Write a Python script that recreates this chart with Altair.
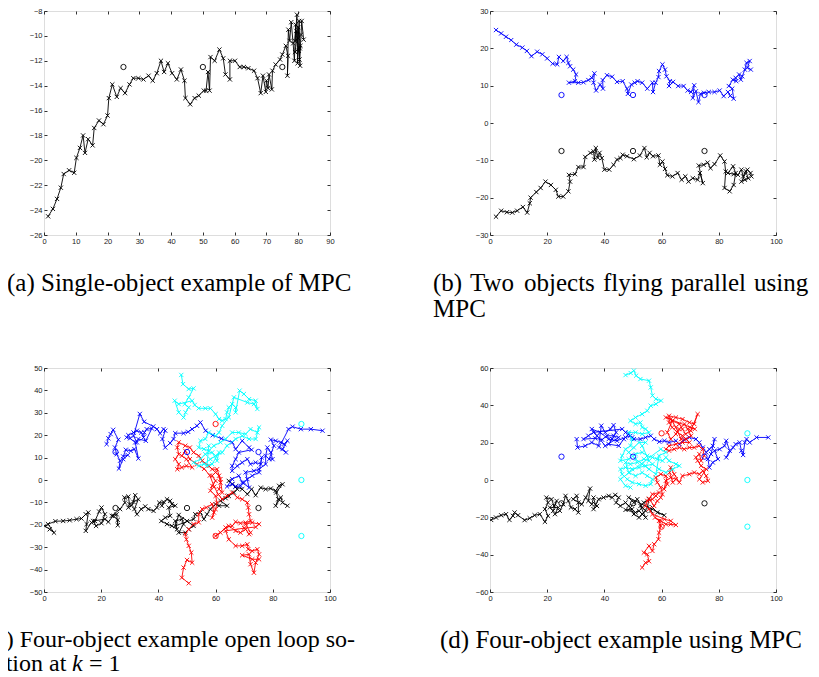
import altair as alt
import pandas as pd

# ---------------- data ----------------
# (a) single object, black trajectory
A_BLACK = [(1.3,-24.5),(2.8,-23.9),(4.1,-23.1),(5.3,-22.2),(6.2,-21.1),(7.9,-20.8),(9.5,-21.0),
    (10.2,-19.8),(11.3,-19.0),(12.3,-18.0),(12.9,-19.4),(13.9,-18.3),(15.3,-18.8),(15.8,-17.4),
    (17.3,-16.8),(18.7,-17.1),(20.0,-16.4),(20.4,-15.0),(21.5,-13.9),(22.9,-14.9),(24.1,-14.2),
    (25.5,-14.6),(26.9,-13.9),(28.1,-13.4),(29.7,-13.4),(31.3,-13.5),(32.9,-13.2),(34.2,-13.6),
    (35.5,-13.0),(36.8,-12.0),(37.8,-12.9),(39.0,-12.2),(40.3,-13.0),(41.8,-13.5),(43.1,-12.7),
    (44.2,-13.6),(44.5,-15.0),(46.0,-15.5),(47.4,-15.0),(48.7,-14.8),(50.3,-14.4),(51.0,-14.4),
    (51.6,-12.9),(52.1,-14.4),(52.4,-11.7),(53.7,-12.0),(55.2,-11.1),(56.4,-11.8),(57.1,-13.1),
    (58.5,-13.5),(58.5,-12.0),(60.1,-12.0),(61.6,-12.5),(62.9,-12.5),(64.3,-12.6),(66.1,-12.8),
    (67.2,-13.4),(68.2,-14.6),(68.9,-13.2),(69.8,-14.5),(70.0,-13.6),(70.5,-14.2),(70.8,-13.1),
    (71.7,-14.3),(71.9,-12.8),(72.9,-12.3),(74.3,-11.9),(75.0,-11.5),(76.1,-10.8),(76.8,-11.6),
    (76.6,-13.2),(76.9,-9.5),(77.3,-10.4),(77.8,-8.9),(78.4,-10.6),(78.8,-12.0),(79.2,-9.1),
    (79.0,-10.4),(79.6,-8.3),(79.8,-12.2),(80.0,-10.2),(80.3,-8.8),(80.5,-11.0),(80.2,-11.2),
    (79.4,-9.6),(80.6,-12.4),(80.0,-9.3),(79.0,-11.3),(80.7,-10.8),(80.4,-11.9),(80.9,-9.9),
    (81.1,-8.8),(81.7,-10.3)]
A_CIRC_BLACK = [(25,-12.5),(50,-12.5),(75,-12.5)]

# (b) two objects flying parallel
B_BLUE = [(2.1,24.9),(3.9,24.0),(5.6,23.1),(7.4,22.2),(9.2,21.0),(11.3,20.2),(12.9,19.3),(14.5,17.9),
    (16.5,19.1),(18.3,18.4),(20.0,17.3),(21.9,15.9),(23.5,15.7),(24.1,17.7),(25.6,16.6),(26.8,17.7),
    (27.4,16.1),(28.0,15.2),(29.1,14.3),(30.1,13.0),(29.7,11.2),(27.6,10.8),(30.9,10.8),(32.7,10.9),
    (34.4,11.5),(35.6,12.1),(36.5,13.3),(36.2,10.8),(37.1,8.7),(38.5,10.3),(39.5,9.2),(39.4,11.5),
    (40.9,12.8),(42.7,12.4),(44.4,11.0),(46.4,11.2),(47.9,9.2),(48.2,7.8),(49.4,10.3),(50.6,10.8),
    (51.6,11.2),(53.2,10.8),(55.0,9.2),(56.8,10.8),(57.0,8.3),(57.9,10.8),(58.9,12.3),(59.1,13.9),
    (60.3,15.7),(61.2,14.3),(61.7,12.5),(62.9,11.2),(62.6,9.9),(64.0,11.0),(65.8,9.9),(67.7,9.9),
    (69.1,8.7),(70.3,8.3),(71.4,10.1),(70.9,6.7),(72.0,8.5),(72.9,5.6),(73.6,7.8),(74.8,8.1),
    (76.5,8.3),(78.5,8.3),(80.3,8.7),(81.7,7.2),(83.2,8.3),(84.0,7.3),(85.2,6.5),(84.7,9.2),
    (83.5,9.9),(84.9,11.6),(86.1,11.2),(85.9,12.1),(87.1,13.0),(87.7,11.6),(88.2,12.5),(89.1,14.3),
    (89.7,16.1),(90.8,16.6),(90.0,14.8),(91.2,14.3)]
B_BLACK = [(2.1,-25.1),(3.9,-23.5),(5.9,-23.9),(7.8,-24.0),(9.5,-23.5),(11.5,-22.5),(13.0,-24.0),
    (13.9,-21.5),(14.2,-20.0),(16.2,-18.5),(17.7,-17.4),(19.4,-15.7),(21.3,-16.6),(23.0,-17.9),
    (23.9,-19.7),(25.6,-19.7),(27.4,-18.3),(28.0,-15.7),(27.6,-13.9),(29.7,-13.7),(30.9,-11.8),
    (32.7,-11.8),(33.3,-9.1),(35.1,-8.0),(36.2,-7.6),(36.5,-9.8),(37.0,-6.7),(37.7,-9.3),(38.3,-8.0),
    (39.1,-9.4),(40.0,-12.5),(41.7,-12.5),(43.2,-11.2),(44.4,-9.8),(45.6,-9.4),(46.4,-8.5),
    (47.9,-8.9),(50.3,-9.7),(52.4,-8.7),(54.0,-6.7),(54.8,-9.2),(55.8,-8.0),(57.0,-8.9),(58.9,-8.7),
    (59.4,-11.2),(60.3,-10.3),(61.2,-12.3),(62.0,-14.0),(63.8,-14.3),(65.6,-13.4),(67.0,-15.2),
    (68.3,-14.3),(69.4,-15.7),(70.9,-14.8),(72.6,-15.2),(73.4,-13.4),(74.4,-16.1),(73.0,-11.4),
    (74.7,-11.2),(76.1,-10.6),(77.1,-12.1),(78.5,-11.0),(80.5,-8.7),(82.0,-10.3),(82.4,-13.0),
    (82.0,-17.4),(83.8,-18.3),(85.2,-16.6),(85.9,-13.4),(85.0,-11.6),(83.2,-13.4),(85.2,-13.7),
    (86.7,-13.9),(87.9,-12.5),(88.5,-14.3),(89.4,-12.9),(90.3,-14.8),(89.1,-15.2),(87.9,-15.7),
    (90.0,-12.5),(91.1,-13.4),(91.4,-14.3)]
B_CIRC_BLUE = [(25,7.5),(50,7.5),(75,7.5)]
B_CIRC_BLACK = [(25,-7.5),(50,-7.5),(75,-7.5)]

# (c) four objects, open loop solution
C_BLACK = [(0.2,-20.5),(2.0,-22.0),(3.5,-23.5),(1.4,-19.7),(4.0,-18.4),(6.7,-18.3),(9.0,-18.0),
    (11.4,-17.5),(13.1,-17.2),(14.6,-15.3),(15.5,-14.5),(14.9,-19.7),(14.6,-22.7),(16.6,-19.0),
    (17.8,-18.3),(19.3,-14.1),(20.1,-12.3),(21.3,-15.3),(20.1,-19.3),(18.2,-20.5),(17.2,-18.3),
    (21.3,-17.5),(22.5,-18.7),(24.2,-16.0),(25.8,-17.8),(25.8,-20.2),(25.4,-15.3),(23.7,-16.0),
    (26.6,-13.0),(28.3,-10.1),(28.1,-7.8),(29.5,-7.4),(29.9,-10.8),(29.5,-12.3),(30.7,-11.3),
    (31.9,-6.8),(31.3,-9.8),(33.0,-8.6),(31.6,-13.0),(32.5,-15.3),(34.0,-13.0),(35.4,-11.8),
    (36.5,-13.0),(38.3,-13.8),(39.5,-12.3),(40.3,-10.1),(41.8,-9.8),(41.2,-11.5),(43.0,-8.6),
    (44.1,-9.3),(44.7,-10.8),(45.9,-11.5),(43.6,-12.3),(44.1,-16.0),(42.4,-16.8),(41.0,-18.3),
    (43.0,-19.7),(44.7,-20.5),(46.5,-22.0),(45.9,-18.3),(48.2,-17.5),(48.8,-19.7),(47.1,-23.5),
    (49.4,-23.5),(50.6,-22.0),(52.3,-20.5),(50.0,-18.3),(47.1,-15.6),(45.9,-20.5),(52.3,-17.5),
    (52.9,-15.3),(54.7,-14.5),(55.9,-17.5),(57.0,-15.3),(58.2,-13.0),(60.0,-10.8),(61.2,-11.5),
    (64.0,-11.5),(61.7,-9.3),(63.5,-8.1),(64.6,-7.1),(66.4,-5.6),(67.6,-4.1),(65.8,-1.9),
    (64.6,-0.4),(67.0,-2.9),(69.3,-4.1),(71.1,-6.3),(72.6,-4.1),(74.0,-6.8),(75.8,-3.4),(77.5,-4.1),
    (79.3,-3.8),(81.0,-4.8),(82.2,-2.6),(83.4,-1.9),(81.2,-5.6),(81.9,-8.6),(81.0,-11.5),
    (82.8,-7.8),(83.4,-10.1),(85.1,-11.5)]
C_BLUE = [(21.9,16.0),(22.5,18.6),(23.3,20.5),(24.2,22.4),(26.0,18.0),(24.8,14.5),(25.4,11.5),
    (26.6,8.6),(26.2,5.1),(27.7,9.3),(29.3,11.1),(27.7,10.5),(28.6,13.5),(30.3,13.0),(31.6,13.8),
    (33.0,9.6),(31.9,16.8),(30.1,18.6),(28.9,19.0),(29.5,20.0),(31.3,21.2),(32.5,22.0),(34.0,21.2),
    (34.8,19.0),(35.1,21.2),(35.9,22.7),(37.7,23.0),(35.6,17.5),(33.0,18.3),(32.5,16.8),(31.3,19.7),
    (33.5,29.5),(35.0,26.0),(38.2,23.9),(39.5,22.7),(40.6,20.8),(41.8,22.7),(42.4,22.0),(41.4,18.3),
    (42.4,14.5),(44.1,16.5),(45.3,18.3),(45.9,20.9),(48.8,20.9),(50.4,21.5),(51.8,22.7),(53.5,24.2),
    (54.7,25.7),(56.5,22.0),(59.0,20.0),(62.0,18.5),(65.8,16.8),(67.0,13.8),(69.3,17.5),(71.7,14.5),
    (72.6,13.5),(68.1,12.3),(67.0,9.3),(65.8,6.3),(65.8,4.1),(67.6,6.3),(69.3,7.8),(71.1,9.3),
    (72.2,7.1),(74.0,7.8),(75.8,7.1),(76.1,10.1),(75.2,3.4),(72.8,1.9),(71.1,0.4),(69.9,-1.1),
    (68.7,-2.6),(67.0,-2.9),(65.8,-1.9),(64.0,-2.9),(65.8,0.4),(68.1,1.9),(69.3,-1.1),(71.7,-3.4),
    (70.5,3.4),(73.4,4.1),(75.2,4.8),(77.5,7.1),(77.5,10.8),(78.1,14.5),(79.3,12.3),(79.9,9.3),
    (78.7,9.3),(80.4,15.3),(79.3,18.0),(81.0,17.5),(82.8,16.8),(84.0,16.0),(85.1,17.5),(83.4,13.8),
    (84.6,12.3),(82.2,14.5),(85.5,22.7),(86.9,23.8),(89.8,22.7),(93.3,22.7),(97.4,22.0)]
C_RED = [(50.6,-46.1),(48.2,-43.6),(48.8,-39.1),(50.0,-35.7),(51.8,-36.9),(51.5,-32.4),(50.6,-29.4),
    (49.8,-26.5),(49.4,-24.2),(50.6,-22.0),(52.3,-19.7),(54.1,-18.9),(54.1,-15.3),(55.3,-13.0),
    (56.7,-12.3),(58.8,-10.8),(59.4,-14.5),(58.8,-16.8),(60.0,-13.0),(60.5,-10.1),(60.0,-7.1),
    (58.2,-4.8),(58.8,-2.6),(60.0,-0.4),(58.8,1.9),(60.0,3.4),(61.2,1.9),(61.7,-1.1),(61.2,-4.1),
    (62.3,-5.6),(61.7,0.4),(60.5,4.8),(58.8,4.8),(57.6,6.3),(55.3,8.6),(54.1,10.8),(52.3,12.3),
    (51.0,14.5),(49.4,15.3),(47.1,16.8),(46.6,14.5),(47.1,11.5),(45.9,9.3),(47.1,7.1),(46.6,4.8),
    (48.2,5.6),(49.8,6.3),(51.8,5.6),(49.8,9.3),(48.2,10.8),(49.4,13.0),(51.0,9.3),(53.5,7.0),
    (56.0,5.0),(58.0,2.0),(59.5,-3.0),(61.0,-6.5),(62.3,-8.6),(64.0,-7.1),(65.8,-5.6),(67.6,-7.8),
    (69.3,-8.6),(71.1,-10.1),(71.4,-12.3),(71.7,-15.3),(72.2,-18.3),(70.5,-19.0),(68.7,-19.3),
    (67.0,-18.7),(65.8,-20.5),(63.5,-21.2),(61.7,-23.5),(60.0,-25.0),(64.6,-20.5),(67.0,-22.7),
    (68.7,-23.5),(70.5,-22.0),(71.7,-24.2),(72.2,-23.5),(70.5,-19.7),(72.8,-19.0),(75.2,-19.7),
    (74.0,-21.0),(70.0,-21.5),(63.5,-22.7),(64.6,-26.5),(67.0,-29.4),(69.3,-29.4),(71.1,-28.7),
    (71.4,-30.9),(72.8,-31.7),(74.6,-30.9),(75.2,-33.2),(74.0,-36.9),(73.4,-41.4),(72.2,-37.6),
    (71.7,-33.2),(69.3,-33.6),(72.8,-35.4),(75.2,-35.4)]
C_CYAN = [(48.0,46.9),(48.6,42.8),(50.6,40.6),(52.3,40.9),(50.6,36.9),(49.2,33.9),(50.6,32.4),
    (49.5,30.2),(48.8,27.9),(47.1,30.2),(45.7,35.4),(47.1,33.9),(51.8,35.4),(52.7,33.5),(54.1,32.0),
    (56.4,32.0),(58.2,32.0),(60.0,29.4),(61.2,27.2),(62.3,26.5),(63.5,27.2),(64.0,30.2),(64.6,32.4),
    (65.8,33.9),(67.0,32.4),(67.0,30.2),(68.4,39.9),(69.9,38.4),(71.7,36.1),(74.0,35.4),(74.6,31.7),
    (73.4,33.9),(71.1,34.6),(66.4,36.9),(64.6,28.0),(62.3,24.2),(61.2,21.2),(60.0,19.7),(57.6,21.2),
    (56.4,18.3),(54.7,17.5),(54.1,14.5),(55.9,13.8),(57.6,13.0),(59.4,15.3),(61.7,16.8),(63.5,18.3),
    (65.8,21.2),(68.1,21.2),(70.5,20.5),(72.2,22.7),(74.6,21.2),(75.2,23.5),(74.0,18.3),(71.7,18.3),
    (69.3,19.7),(67.0,18.3),(64.0,15.3),(62.3,12.3),(60.0,10.8),(58.2,9.3),(55.9,7.1),(54.1,6.3),
    (52.3,7.8),(54.7,9.3),(56.4,11.5),(58.8,12.3),(60.5,8.6),(61.2,12.3),(58.8,7.1),(57.0,6.3),
    (57.6,15.3)]

# (d) four objects using MPC
D_BLACK = [(0.4,-21.4),(2.1,-20.1),(3.9,-18.9),(5.6,-18.3),(6.8,-21.4),(8.0,-19.2),(8.6,-17.4),
    (9.8,-18.9),(12.1,-21.5),(13.9,-20.5),(15.6,-18.9),(17.4,-18.3),(19.2,-22.4),(20.3,-19.2),
    (19.2,-15.6),(20.3,-12.1),(19.7,-9.4),(21.5,-10.3),(22.4,-13.9),(23.3,-11.2),(22.1,-16.5),
    (20.9,-14.7),(23.9,-14.7),(22.7,-18.3),(24.4,-16.5),(25.6,-13.0),(26.4,-8.5),(27.4,-11.2),
    (28.3,-14.7),(29.7,-15.6),(30.9,-17.4),(30.9,-12.1),(30.3,-8.5),(29.1,-10.3),(32.1,-13.0),
    (33.5,-9.4),(35.0,-4.6),(34.4,-11.2),(35.6,-13.0),(36.2,-9.4),(36.8,-13.0),(37.4,-13.9),
    (36.2,-15.6),(38.0,-10.3),(39.7,-9.4),(41.5,-8.5),(42.7,-9.4),(43.8,-8.0),(45.0,-9.4),
    (44.1,-12.1),(45.6,-13.9),(47.4,-12.1),(48.5,-13.9),(49.7,-15.6),(47.4,-16.0),(50.9,-17.4),
    (52.1,-16.5),(53.2,-18.3),(54.4,-20.1),(52.6,-13.9),(53.8,-12.1),(55.6,-10.3),(55.0,-14.7),
    (56.2,-16.5),(56.8,-14.7),(58.5,-17.4),(60.9,-18.9),(48.5,-9.4),(50.3,-12.1),(51.5,-10.3),
    (53.2,-14.7),(54.4,-16.5),(52.1,-20.1),(50.3,-18.3),(49.1,-14.7)]
D_BLUE = [(30.3,21.9),(30.6,17.4),(33.3,18.3),(35.6,20.1),(38.0,18.3),(38.9,29.1),(40.3,25.5),
    (42.1,27.3),(43.2,29.4),(44.1,25.5),(42.7,21.9),(41.5,19.2),(45.0,18.3),(46.8,21.9),(48.5,24.6),
    (49.7,22.8),(47.4,25.5),(46.2,27.3),(36.2,25.5),(34.4,23.7),(32.7,21.9),(36.8,22.3),(39.2,21.6),
    (40.9,23.7),(43.2,23.7),(45.0,22.8),(40.3,18.3),(37.4,23.7),(35.6,27.3),(38.5,25.5),(41.5,21.9),
    (44.4,21.0),(47.4,22.8),(49.1,23.7),(50.3,21.9),(52.6,21.9),(54.4,22.8),(56.2,23.7),(57.4,21.9),
    (59.2,20.5),(61.0,21.0),(62.6,20.1),(65.0,21.0),(66.2,19.2),(67.9,21.6),(69.7,22.8),(72.0,21.9),
    (73.2,20.1),(74.4,17.4),(75.6,14.8),(76.7,16.5),(77.9,18.3),(78.5,21.9),(77.3,13.9),(76.2,11.2),
    (76.7,6.7),(77.9,9.4),(79.7,11.2),(78.5,15.7),(80.3,16.5),(82.0,18.3),(82.6,21.0),(83.8,15.7),
    (82.6,12.1),(85.0,17.4),(85.9,19.2),(87.3,20.1),(87.9,15.7),(88.5,13.4),(89.1,20.1),(89.7,21.9),
    (90.8,20.1),(93.2,22.8),(97.3,22.8)]
D_RED = [(53.2,-46.9),(54.4,-44.3),(55.6,-43.5),(55.0,-39.8),(53.8,-38.9),(55.6,-35.3),(56.8,-38.0),
    (57.4,-34.4),(58.9,-31.7),(59.1,-28.2),(59.7,-24.6),(59.1,-21.9),(57.7,-20.1),(59.7,-21.9),
    (61.5,-23.7),(63.2,-23.7),(65.0,-24.1),(63.2,-21.9),(61.0,-21.0),(56.8,-18.3),(55.6,-15.6),
    (54.4,-13.9),(55.0,-11.2),(56.8,-10.3),(58.0,-8.5),(59.1,-6.7),(56.8,-7.6),(55.6,-10.0),
    (57.4,-13.9),(58.5,-11.2),(59.7,-9.4),(60.3,-7.6),(59.7,-4.0),(58.5,-1.3),(58.0,1.3),(59.7,3.1),
    (61.5,2.2),(62.0,-2.2),(60.9,-4.9),(61.5,-0.4),(63.2,1.3),(65.0,0.4),(63.9,-1.3),(62.8,4.0),
    (63.2,6.7),(64.4,3.1),(66.2,-1.3),(67.3,2.2),(69.7,3.1),(71.4,4.0),(73.2,3.1),(74.4,4.9),
    (75.6,2.2),(76.2,-0.4),(74.4,-1.3),(73.2,0.4),(75.6,5.8),(73.8,7.6),(72.6,10.3),(72.0,12.1),
    (73.2,13.9),(73.8,10.3),(74.9,13.0),(74.4,16.5),(73.0,18.3),(71.4,17.4),(69.7,17.4),(67.9,16.5),
    (66.2,17.4),(64.4,16.5),(62.6,15.7),(61.5,16.5),(62.6,18.3),(65.0,19.2),(67.3,20.1),(69.7,20.1),
    (67.3,23.7),(65.5,25.5),(63.7,28.2),(62.6,30.8),(62.6,34.4),(65.0,33.5),(67.3,32.6),(69.7,30.8),
    (71.4,30.0),(72.6,35.3),(70.2,26.4),(68.4,24.6),(67.3,27.3),(66.2,30.0),(63.7,31.7),(62.0,25.5),
    (63.2,21.9),(65.0,24.6),(66.2,27.3),(68.0,30.0),(69.1,27.3),(70.3,23.7),(68.6,21.9),(66.8,21.9),
    (65.0,28.2),(63.2,32.6),(61.5,33.5),(71.6,27.3),(69.9,28.2)]
D_CYAN = [(47.4,56.2),(49.2,57.3),(50.3,58.6),(51.1,55.9),(52.6,54.1),(55.6,53.2),(56.2,49.6),
    (56.8,45.2),(58.0,43.4),(59.8,42.5),(58.0,40.7),(56.2,39.8),(55.0,37.1),(53.2,35.3),(50.9,33.5),
    (49.1,31.7),(50.9,30.0),(52.6,30.8),(53.2,28.2),(54.4,27.3),(55.6,25.5),(53.2,24.6),(50.9,25.5),
    (48.5,25.5),(49.7,21.9),(49.1,18.3),(47.4,16.5),(46.2,13.0),(45.6,10.3),(48.5,11.2),(50.9,13.9),
    (53.2,14.8),(55.0,13.0),(56.8,12.1),(58.5,11.2),(60.3,10.3),(61.5,12.1),(62.6,10.3),(65.0,8.5),
    (66.2,7.6),(63.9,5.8),(61.5,4.0),(59.1,5.8),(56.8,8.5),(54.4,7.6),(52.1,6.7),(49.7,5.8),
    (47.4,6.7),(45.6,5.8),(46.2,3.1),(48.0,0.4),(49.7,-1.3),(52.1,-2.2),(54.4,-3.1),(56.2,-2.2),
    (56.8,0.4),(55.0,2.2),(53.2,4.0),(50.9,2.2),(48.5,4.0),(47.4,9.4),(49.1,8.5),(51.5,9.4),
    (53.8,11.2),(55.6,10.3),(53.2,18.3),(54.4,20.1),(52.1,20.1),(50.3,17.4),(48.5,14.8),(50.9,11.2),
    (53.2,8.5),(55.6,5.8),(58.0,3.1),(59.1,13.0),(61.5,14.8),(59.7,16.5),(45.6,0.4),(47.4,-3.1),
    (49.1,-4.0)]

CIRC_BLACK = [(25,-12.5),(50,-12.5),(75,-12.5)]
CIRC_BLUE = [(25,12.5),(50,12.5),(75,12.5)]
CIRC_RED = [(60,25),(60,-25)]
CIRC_CYAN = [(90,25),(90,0),(90,-25)]

A_XTICKS = [0, 10, 20, 30, 40, 50, 60, 70, 80, 90]
A_YTICKS = [-26, -24, -22, -20, -18, -16, -14, -12, -10, -8]
B_XTICKS = [0, 20, 40, 60, 80, 100]
B_YTICKS = [-30, -20, -10, 0, 10, 20, 30]
C_YTICKS = [-50, -40, -30, -20, -10, 0, 10, 20, 30, 40, 50]
D_YTICKS = [-60, -40, -20, 0, 20, 40, 60]

CAP_A = "(a) Single-object example of MPC"
CAP_B1 = ["(b)", "Two", "objects", "flying", "parallel", "using"]
CAP_B2 = "MPC"
CAP_C1 = "(c) Four-object example open loop so-"
CAP_C2 = ["lution at", "k", "= 1"]
CAP_D = "(d) Four-object example using MPC"

# ---------------- styling ----------------
W, H = 286, 224
XMARK = "M-1,-1L1,1M-1,1L1,-1"
BLACK, BLUE, RED, CYAN = "#000000", "#0000ff", "#ff0000", "#00ffff"
LABEL_FONT = "Liberation Sans"
CAP_FONT = "Liberation Serif"
CAP_SIZE = 25
CAP_Y1, CAP_Y2 = 272, 298

TICKS = dict(title=None, domain=False, grid=False, tickSize=3, offset=-3,
             tickColor="black", tickWidth=0.8)
LABELS = dict(labelFont=LABEL_FONT, labelFontSize=7.5, labelColor="#1a1a1a",
              labelPadding=2, labelFlush=False, labelOverlap=False, format="d")


def to_df(pts):
    return pd.DataFrame({"x": [p[0] for p in pts], "y": [p[1] for p in pts],
                         "i": list(range(len(pts)))})


def caption(text, rx, ry, italic=False, size=CAP_SIZE):
    return alt.Chart(pd.DataFrame({"c": [0]})).mark_text(
        text=text, font=CAP_FONT, fontSize=size, align="left", baseline="middle",
        color="black", fontStyle="italic" if italic else "normal"
    ).encode(x=alt.value(rx), y=alt.value(ry))


def panel(xdom, ydom, xticks, yticks, series, circles, captions):
    xs = alt.Scale(domain=xdom, nice=False, zero=False)
    ys = alt.Scale(domain=ydom, nice=False, zero=False)
    layers = []
    layers.append(alt.Chart(to_df(circles[0][0])).mark_point(opacity=0).encode(
        x=alt.X("x:Q", scale=xs, axis=alt.Axis(orient="bottom", values=xticks, **TICKS, **LABELS)),
        y=alt.Y("y:Q", scale=ys, axis=alt.Axis(orient="left", values=yticks, **TICKS, **LABELS))))
    layers.append(alt.Chart(to_df(circles[0][0])).mark_point(opacity=0).encode(
        x=alt.X("x:Q", scale=xs, axis=alt.Axis(orient="top", values=xticks, labels=False, **TICKS)),
        y=alt.Y("y:Q", scale=ys, axis=alt.Axis(orient="right", values=yticks, labels=False, **TICKS))))
    for pts, col in series:
        df = to_df(pts)
        layers.append(alt.Chart(df).mark_line(color=col, strokeWidth=0.9, clip=True).encode(
            x=alt.X("x:Q", scale=xs, axis=None), y=alt.Y("y:Q", scale=ys, axis=None),
            order="i:Q"))
        layers.append(alt.Chart(df).mark_point(
            shape=XMARK, size=18, color=col, strokeWidth=0.9, filled=False, opacity=1, clip=True
        ).encode(x=alt.X("x:Q", scale=xs, axis=None), y=alt.Y("y:Q", scale=ys, axis=None)))
    for pts, col in circles:
        layers.append(alt.Chart(to_df(pts)).mark_point(
            shape="circle", size=28, color=col, strokeWidth=0.9, filled=False, opacity=1
        ).encode(x=alt.X("x:Q", scale=xs, axis=None), y=alt.Y("y:Q", scale=ys, axis=None)))
    layers.extend(captions)
    return alt.layer(*layers).properties(width=W, height=H).resolve_axis(
        x="independent", y="independent")


pa = panel([0, 90], [-26, -8], A_XTICKS, A_YTICKS,
           [(A_BLACK, BLACK)], [(A_CIRC_BLACK, BLACK)],
           [caption(CAP_A, -37, CAP_Y1)])

b_pos = [-57, -20, 34, 113, 181, 264]
pb = panel([0, 100], [-30, 30], B_XTICKS, B_YTICKS,
           [(B_BLUE, BLUE), (B_BLACK, BLACK)],
           [(B_CIRC_BLUE, BLUE), (B_CIRC_BLACK, BLACK)],
           [caption(w, p, CAP_Y1) for w, p in zip(CAP_B1, b_pos)] + [caption(CAP_B2, -57, CAP_Y2)])

pc = panel([0, 100], [-50, 50], B_XTICKS, C_YTICKS,
           [(C_BLACK, BLACK), (C_BLUE, BLUE), (C_RED, RED), (C_CYAN, CYAN)],
           [(CIRC_BLACK, BLACK), (CIRC_BLUE, BLUE), (CIRC_RED, RED), (CIRC_CYAN, CYAN)],
           [caption(CAP_C1, -57, CAP_Y1, size=24),
            caption(CAP_C2[0], -57, 296, size=24),
            caption(CAP_C2[1], 28, 296, italic=True, size=24),
            caption(CAP_C2[2], 45, 296, size=24)])

pd_ = panel([0, 100], [-60, 60], B_XTICKS, D_YTICKS,
            [(D_BLACK, BLACK), (D_BLUE, BLUE), (D_RED, RED), (D_CYAN, CYAN)],
            [(CIRC_BLACK, BLACK), (CIRC_BLUE, BLUE), (CIRC_RED, RED), (CIRC_CYAN, CYAN)],
            [caption(CAP_D, -50, CAP_Y1)])

chart = alt.concat(pa, pb, pc, pd_, columns=2, spacing={"row": 133, "column": 160},
                   bounds="flush").properties(
    padding={"left": -22, "top": -2, "right": 0, "bottom": 0}
).configure_view(stroke="black", strokeWidth=1.2).configure(background="white")

chart.save("out.html", embed_options={"renderer": "svg", "actions": False})
